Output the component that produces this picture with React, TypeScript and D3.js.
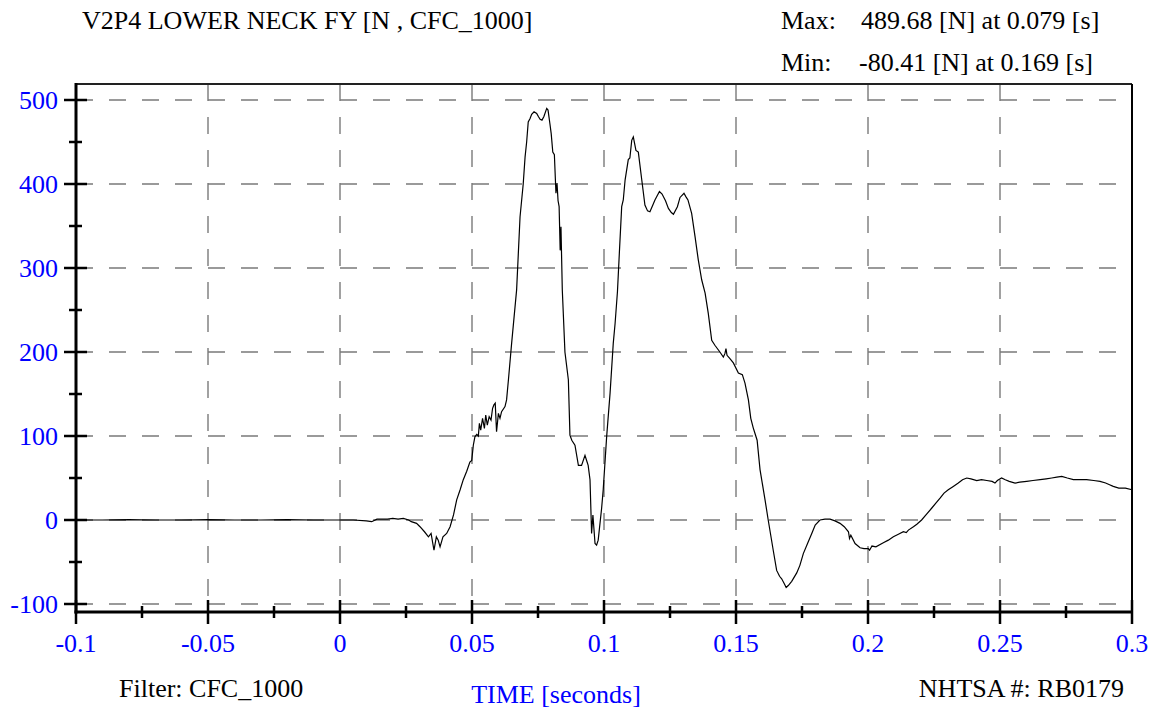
import React from "react";
import * as d3 from "d3";

const TITLE = "V2P4 LOWER NECK FY [N , CFC_1000]";
const MAX_LABEL = "Max:";
const MAX_TEXT = "489.68 [N] at 0.079 [s]";
const MIN_LABEL = "Min:";
const MIN_TEXT = "-80.41 [N] at 0.169 [s]";
const FILTER_TEXT = "Filter: CFC_1000";
const X_TITLE = "TIME [seconds]";
const NHTSA_TEXT = "NHTSA #: RB0179";

const xTicks = [-0.1, -0.05, 0, 0.05, 0.1, 0.15, 0.2, 0.25, 0.3];
const xTickLabels = ["-0.1", "-0.05", "0", "0.05", "0.1", "0.15", "0.2", "0.25", "0.3"];
const xMinorTicks = [-0.075, -0.025, 0.025, 0.075, 0.125, 0.175, 0.225, 0.275];
const yTicks = [-100, 0, 100, 200, 300, 400, 500];
const yMinorTicks = [-50, 50, 150, 250, 350, 450];

const time = [
  -0.1, -0.09, -0.08, -0.07, -0.06, -0.05, -0.04, -0.03, -0.02, -0.01, 0.0, 0.005,
  0.01, 0.012, 0.014, 0.018, 0.02, 0.022, 0.024, 0.026, 0.027, 0.029, 0.0303, 0.032,
  0.0335, 0.0345, 0.0356, 0.0365, 0.0372, 0.0379, 0.039, 0.0404, 0.0417, 0.043, 0.0442,
  0.0455, 0.0467, 0.048, 0.0492, 0.0499, 0.0505, 0.0511, 0.0518, 0.0524, 0.0528, 0.0533,
  0.054, 0.0547, 0.0552, 0.0558, 0.0565, 0.0572, 0.0578, 0.0583, 0.0588, 0.0593, 0.06,
  0.0606, 0.0612, 0.0625, 0.0631, 0.0638, 0.065, 0.0669, 0.0682, 0.0694, 0.0701, 0.0707,
  0.0713, 0.072, 0.0726, 0.0735, 0.0745, 0.0752, 0.0758, 0.0765, 0.0772, 0.0783, 0.0788,
  0.0795, 0.08, 0.0806, 0.0812, 0.0818, 0.0822, 0.0826, 0.083, 0.0834, 0.0837, 0.0842,
  0.0852, 0.0865, 0.0871, 0.0878, 0.089, 0.0903, 0.0915, 0.0928, 0.0935, 0.094, 0.0947,
  0.0953, 0.0958, 0.0966, 0.0972, 0.0978, 0.0991, 0.0997, 0.101, 0.1023, 0.1035, 0.1042,
  0.1051, 0.1058, 0.1067, 0.1073, 0.108, 0.1092, 0.1098, 0.1105, 0.1111, 0.1116, 0.1121,
  0.113, 0.1143, 0.1155, 0.1165, 0.1174, 0.1185, 0.1193, 0.121, 0.122, 0.1233, 0.1244,
  0.1255, 0.1263, 0.1278, 0.1288, 0.1303, 0.131, 0.1318, 0.1332, 0.1345, 0.1357, 0.137,
  0.1383, 0.1395, 0.1408, 0.142, 0.1439, 0.1452, 0.1458, 0.1462, 0.1466, 0.1477, 0.149,
  0.1509, 0.1524, 0.1534, 0.1547, 0.1556, 0.1565, 0.1572, 0.158, 0.1591, 0.161, 0.1622,
  0.1641, 0.1654, 0.1665, 0.1673, 0.1683, 0.169, 0.1698, 0.1711, 0.173, 0.1742, 0.1755,
  0.1771, 0.1787, 0.18, 0.1818, 0.1837, 0.1856, 0.1875, 0.1894, 0.191, 0.1926, 0.193,
  0.1935, 0.1951, 0.197, 0.1985, 0.2001, 0.2006, 0.2015, 0.203, 0.2058, 0.2077, 0.2096,
  0.2115, 0.2134, 0.2145, 0.2153, 0.2172, 0.2185, 0.2203, 0.2222, 0.2241, 0.2257, 0.2273,
  0.2288, 0.2304, 0.2323, 0.2342, 0.2358, 0.2374, 0.239, 0.2412, 0.243, 0.245, 0.247,
  0.2481, 0.249, 0.2506, 0.252, 0.2535, 0.2557, 0.2575, 0.2601, 0.2625, 0.2652, 0.2675,
  0.2696, 0.2715, 0.2734, 0.2755, 0.2778, 0.2805, 0.2828, 0.2855, 0.2879, 0.29, 0.2915,
  0.2929, 0.295, 0.2975, 0.3,
];

const force = [
  0, 0, 0.5, 0, 0, 0.5, 0, 0, 0.5, 0, 0, 0,
  -1, -2, 1, 1, 2, 1, 2, 0, -2, -4, -8, -14,
  -20, -16, -36, -20, -24, -32, -20, -16, -8, 6, 24,
  36, 48, 58, 69, 71, 89, 99, 102, 100, 115, 107,
  121, 109, 125, 113, 123, 119, 133, 137, 139, 105, 127,
  121, 129, 135, 143, 167, 210, 274, 361, 400, 432, 450,
  474, 478, 483, 486, 484, 480, 477, 476, 480, 490, 488,
  472, 460, 438, 435, 389, 401, 380, 373, 321, 349, 274,
  200, 167, 101, 95, 89, 65, 65, 77, 70, 65, 48,
  -16, 6, -28, -30, -24, 14, 36, 99, 151, 210, 234,
  272, 317, 373, 381, 405, 429, 431, 452, 456, 448, 440,
  438, 405, 375, 368, 367, 375, 381, 391, 388, 380, 371,
  366, 364, 373, 384, 389, 385, 381, 365, 337, 310, 286,
  270, 246, 214, 208, 200, 194, 198, 204, 196, 192, 187,
  175, 173, 163, 143, 121, 110, 103, 95, 60, 24, 0,
  -36, -60, -67, -70, -76, -80.4, -78, -73, -63, -54, -40,
  -28, -16, -6, 0, 1, 1, -1, -4, -8, -14, -22,
  -18, -28, -33, -34, -34, -36, -31, -32, -27, -24, -20,
  -17, -14, -15, -12, -8, -5, 0, 7, 14, 20, 26,
  32, 36, 40, 44, 48, 50, 49, 47, 48, 47, 46,
  44, 47, 50, 48, 46, 44, 45, 46, 47, 48, 49,
  50, 51, 52, 50, 48, 48, 48, 47, 46, 44, 42,
  40, 38, 38, 36,
];

const W = 1157;
const H = 708;
const left = 76;
const right = 1132;
const top = 84;
const bottom = 612;
const FONT = '"Liberation Serif", "Times New Roman", "DejaVu Serif", serif';

export default function App() {
  const x = d3.scaleLinear().domain([-0.1, 0.3]).range([left, right]);
  const y = d3.scaleLinear().domain([-100, 500]).range([604, 100]);
  const data = time.map((t, i) => [t, force[i]] as [number, number]);
  const line = d3
    .line<[number, number]>()
    .x((d) => x(d[0]))
    .y((d) => y(d[1]));
  const gridColor = "#7a7a7a";
  const ts = { fontFamily: FONT } as React.CSSProperties;
  return (
    <svg
      width={W}
      height={H}
      style={{ position: "absolute", left: 0, top: 0, background: "#fff", fontFamily: FONT }}
    >
      <rect x={0} y={0} width={W} height={H} fill="#fff" />
      {yTicks.map((v) => (
        <line
          key={"gy" + v}
          x1={left}
          x2={right}
          y1={y(v)}
          y2={y(v)}
          stroke={gridColor}
          strokeWidth={1.4}
          strokeDasharray="17,16"
        />
      ))}
      {xTicks.slice(1, -1).map((v) => (
        <line
          key={"gx" + v}
          x1={x(v)}
          x2={x(v)}
          y1={top}
          y2={bottom}
          stroke={gridColor}
          strokeWidth={1.4}
          strokeDasharray="17,16"
        />
      ))}
      <path d={line(data) || ""} fill="none" stroke="#000" strokeWidth={1.2} />
      <line x1={left} x2={right} y1={top} y2={top} stroke="#222" strokeWidth={2} />
      <line x1={right} x2={right} y1={top} y2={bottom} stroke="#000" strokeWidth={2} />
      <line x1={left} x2={left} y1={top - 1} y2={bottom + 1.5} stroke="#000" strokeWidth={3} />
      <line x1={left - 1.5} x2={right + 1} y1={bottom} y2={bottom} stroke="#000" strokeWidth={3} />
      {yTicks.map((v) => (
        <line key={"yt" + v} x1={64} x2={87} y1={y(v)} y2={y(v)} stroke="#000" strokeWidth={2.5} />
      ))}
      {yMinorTicks.map((v) => (
        <line key={"ym" + v} x1={69} x2={82} y1={y(v)} y2={y(v)} stroke="#000" strokeWidth={2.5} />
      ))}
      {xTicks.map((v) => (
        <line key={"xt" + v} x1={x(v)} x2={x(v)} y1={600} y2={624} stroke="#000" strokeWidth={2.5} />
      ))}
      {xMinorTicks.map((v) => (
        <line key={"xm" + v} x1={x(v)} x2={x(v)} y1={606} y2={618} stroke="#000" strokeWidth={2.5} />
      ))}
      {yTicks.map((v) => (
        <text key={"yl" + v} x={58} y={y(v) + 9} textAnchor="end" fill="#0000ff" fontSize={26} style={ts}>
          {String(v)}
        </text>
      ))}
      {xTicks.map((v, i) => (
        <text key={"xl" + v} x={x(v)} y={652} textAnchor="middle" fill="#0000ff" fontSize={26} style={ts}>
          {xTickLabels[i]}
        </text>
      ))}
      <text x={82} y={29} fontSize={26} fill="#000" style={ts}>
        {TITLE}
      </text>
      <text x={781} y={29} fontSize={26} fill="#000" style={ts}>
        {MAX_LABEL}
      </text>
      <text x={861} y={29} fontSize={26} fill="#000" style={ts}>
        {MAX_TEXT}
      </text>
      <text x={781} y={71} fontSize={26} fill="#000" style={ts}>
        {MIN_LABEL}
      </text>
      <text x={859} y={71} fontSize={26} fill="#000" style={ts}>
        {MIN_TEXT}
      </text>
      <text x={119} y={697} fontSize={26} fill="#000" style={ts}>
        {FILTER_TEXT}
      </text>
      <text x={556} y={703} fontSize={26} fill="#0000ff" textAnchor="middle" style={ts}>
        {X_TITLE}
      </text>
      <text x={1124} y={697} fontSize={26} fill="#000" textAnchor="end" style={ts}>
        {NHTSA_TEXT}
      </text>
    </svg>
  );
}
